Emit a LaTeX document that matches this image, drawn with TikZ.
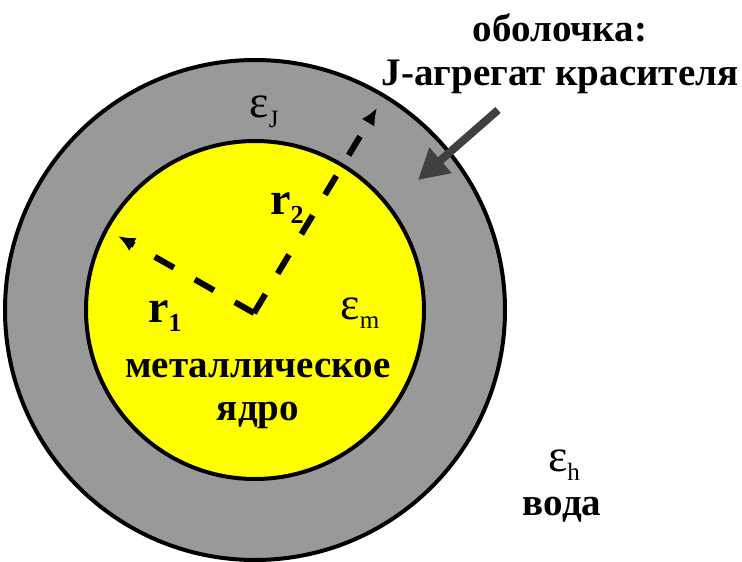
\documentclass[tikz,border=0pt]{standalone}
\usepackage{fontspec}
\setmainfont{Liberation Serif}
\usetikzlibrary{arrows.meta,positioning}
\definecolor{shellgray}{HTML}{999999}
\definecolor{coreyellow}{HTML}{FFFF00}
\definecolor{pointer}{HTML}{404040}
\newcommand{\permit}[1]{ε\raisebox{-0.45ex}{\fontsize{25}{25}\selectfont #1}}
\newcommand{\radlab}[1]{r\raisebox{-0.4ex}{\fontsize{26}{26}\selectfont #1}}
\tikzset{
  ring/.style={draw=black, line width=4pt},
  radarr/.style={-{Latex[length=17pt,width=15pt]}, line width=6pt,
    dash pattern=on 22pt off 24pt},
  ptrarr/.style={-{Triangle[length=30pt,width=32pt]}, line width=8pt, draw=pointer},
  lbl/.style={font=\fontsize{39}{46}\selectfont\bfseries, inner sep=0pt},
  rlbl/.style={font=\fontsize{46}{50}\selectfont\bfseries, inner sep=0pt},
  epslbl/.style={font=\fontsize{46}{50}\selectfont, inner sep=0pt}
}
\begin{document}
\begin{tikzpicture}[x=1pt,y=-1pt]
  \useasboundingbox (0,0) rectangle (742,562);
  \fill[white] (0,0) rectangle (742,562);
  % core-shell particle
  \coordinate (O) at (255,310);
  \draw[ring, fill=shellgray] (O) circle[radius=250];
  \draw[ring, fill=coreyellow] (O) circle[radius=169];
  % radii
  \coordinate (c) at (254,313);
  \coordinate (t1) at (118,236);
  \coordinate (t2) at (377,108);
  \draw[radarr] (c) -- (t1);
  \draw[radarr] (c) -- (t2);
  \node[rlbl] (r1) at (165,316) {\radlab{1}};
  \node[rlbl] (r2) at (287,208) {\radlab{2}};
  % permittivities
  \node[epslbl] (epsJ) at (264,112) {\permit{J}};
  \node[epslbl] (epsM) at (360,313) {\permit{m}};
  \node[epslbl] (epsH) at (564,465) {\permit{h}};
  \node[lbl] (water) at (562,510) {вода};
  \node[lbl] (core) at (258,368) {металлическое};
  \node[lbl] (core2) at (258,415) {ядро};
  % shell label and pointer
  \node[lbl] (shell) at (560,28) {оболочка:};
  \node[lbl] (shell2) at (560,77) {J-агрегат красителя};
  \coordinate (ptrtail) at (498,110);
  \coordinate (ptrtip) at (418,180);
  \draw[ptrarr] (ptrtail) -- (ptrtip);
\end{tikzpicture}
\end{document}
